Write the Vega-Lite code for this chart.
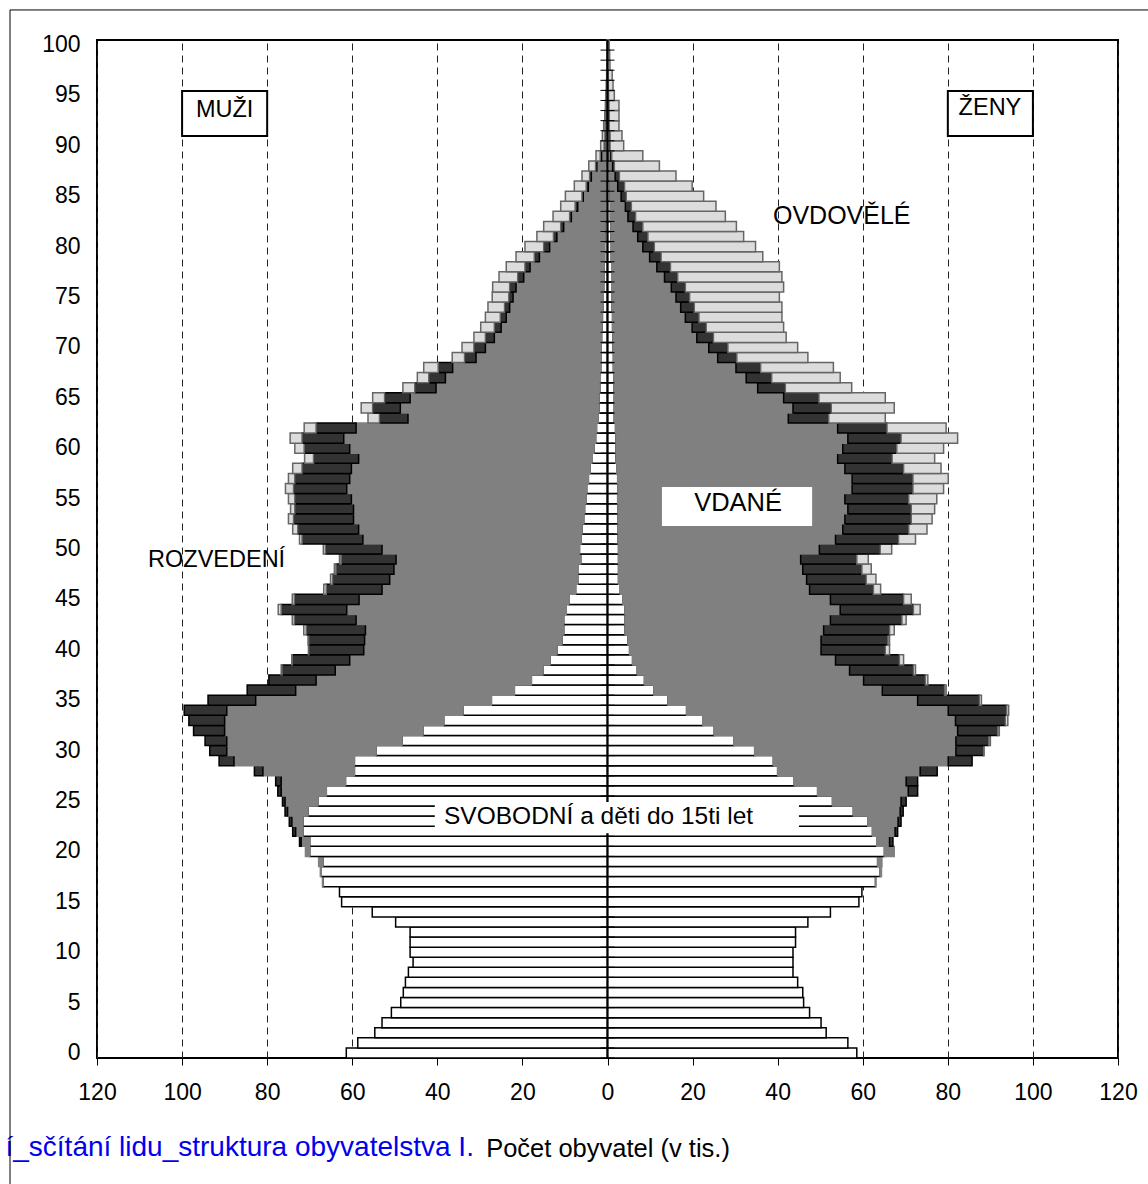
{
  "$schema": "https://vega.github.io/schema/vega-lite/v6.json",
  "width": 1021,
  "height": 1018,
  "autosize": {"type": "none"},
  "padding": {"left": 97, "top": 40, "right": 30, "bottom": 126},
  "background": "#ffffff",
  "config": {"font": "Liberation Sans", "view": {"stroke": "#000000", "strokeWidth": 2}},
  "data": {
    "values": [
      {"vek":0,"m1":-61.4,"z1":58.6},
      {"vek":1,"m1":-58.7,"z1":56.5},
      {"vek":2,"m1":-54.7,"z1":51.4},
      {"vek":3,"m1":-53.0,"z1":50.2},
      {"vek":4,"m1":-50.8,"z1":47.5},
      {"vek":5,"m1":-48.6,"z1":46.1},
      {"vek":6,"m1":-48.0,"z1":45.9},
      {"vek":7,"m1":-47.5,"z1":44.7},
      {"vek":8,"m1":-46.8,"z1":43.6},
      {"vek":9,"m1":-45.7,"z1":43.6},
      {"vek":10,"m1":-46.4,"z1":43.6},
      {"vek":11,"m1":-46.4,"z1":44.2},
      {"vek":12,"m1":-46.4,"z1":44.2},
      {"vek":13,"m1":-49.8,"z1":47.1},
      {"vek":14,"m1":-55.3,"z1":52.4},
      {"vek":15,"m1":-62.5,"z1":59.1},
      {"vek":16,"m1":-63.0,"z1":59.8},
      {"vek":17,"m1":-66.9,"m2":-0.1,"z1":63.0,"z2":0.1},
      {"vek":18,"m1":-67.3,"m2":-0.2,"z1":64.1,"z2":0.3},
      {"vek":19,"m1":-66.9,"m2":-1.0,"z1":63.5,"z2":1.0},
      {"vek":20,"m1":-70.0,"m2":-1.0,"z1":65.1,"z2":2.3},
      {"vek":21,"m1":-70.0,"m2":-2.0,"m3":-0.4,"z1":63.3,"z2":3.0,"z3":0.8},
      {"vek":22,"m1":-71.6,"m2":-1.7,"m3":-0.7,"z1":62.3,"z2":5.3,"z3":0.6},
      {"vek":23,"m1":-71.6,"m2":-2.6,"m3":-0.6,"z1":61.2,"z2":7.1,"z3":0.7},
      {"vek":24,"m1":-70.4,"m2":-4.8,"m3":-0.6,"z1":57.8,"z2":11.0,"z3":0.7},
      {"vek":25,"m1":-68.1,"m2":-7.7,"m3":-0.6,"z1":52.9,"z2":16.1,"z3":1.2},
      {"vek":26,"m1":-66.1,"m2":-10.6,"m3":-0.8,"z1":49.4,"z2":21.3,"z3":2.2},
      {"vek":27,"m1":-61.6,"m2":-15.1,"m3":-1.3,"z1":43.9,"z2":26.3,"z3":2.7},
      {"vek":28,"m1":-59.5,"m2":-21.5,"m3":-2.0,"z1":40.0,"z2":33.5,"z3":4.0},
      {"vek":29,"m1":-59.5,"m2":-28.3,"m3":-3.5,"z1":39.0,"z2":41.1,"z3":5.6},
      {"vek":30,"m1":-54.4,"m2":-35.1,"m3":-4.0,"z1":34.6,"z2":47.3,"z3":6.5,"z4":0.1},
      {"vek":31,"m1":-48.3,"m2":-41.2,"m3":-5.1,"z1":29.7,"z2":52.2,"z3":7.7,"z4":0.4},
      {"vek":32,"m1":-43.4,"m2":-46.6,"m3":-7.3,"z1":25.1,"z2":57.2,"z3":9.4,"z4":0.4},
      {"vek":33,"m1":-38.5,"m2":-51.5,"m3":-8.4,"z1":22.4,"z2":59.4,"z3":11.7,"z4":0.6},
      {"vek":34,"m1":-34.0,"m2":-55.5,"m3":-10.0,"z1":18.6,"z2":61.5,"z3":13.7,"z4":0.5},
      {"vek":35,"m1":-27.3,"m2":-55.4,"m3":-11.2,"z1":14.2,"z2":58.7,"z3":14.5,"z4":0.5},
      {"vek":36,"m1":-21.9,"m2":-51.4,"m3":-11.4,"z1":10.9,"z2":53.7,"z3":14.6,"z4":0.4},
      {"vek":37,"m1":-17.9,"m2":-50.6,"m3":-11.1,"z1":8.7,"z2":51.5,"z3":14.5,"z4":0.6},
      {"vek":38,"m1":-15.2,"m2":-48.8,"m3":-12.5,"m4":-0.2,"z1":7.0,"z2":49.9,"z3":15.0,"z4":0.5},
      {"vek":39,"m1":-13.5,"m2":-47.1,"m3":-13.5,"m4":-0.1,"z1":5.9,"z2":47.7,"z3":15.0,"z4":1.0},
      {"vek":40,"m1":-11.9,"m2":-45.4,"m3":-12.9,"m4":-0.1,"z1":5.2,"z2":45.0,"z3":15.1,"z4":1.0},
      {"vek":41,"m1":-10.7,"m2":-46.4,"m3":-13.1,"m4":-0.2,"z1":4.8,"z2":45.4,"z3":15.7,"z4":0.4},
      {"vek":42,"m1":-10.3,"m2":-46.6,"m3":-13.9,"m4":-0.6,"z1":4.1,"z2":46.7,"z3":15.5,"z4":1.1},
      {"vek":43,"m1":-10.3,"m2":-48.8,"m3":-14.5,"m4":-0.5,"z1":4.1,"z2":48.3,"z3":16.8,"z4":1.0},
      {"vek":44,"m1":-9.7,"m2":-51.6,"m3":-15.4,"m4":-0.7,"z1":4.1,"z2":50.6,"z3":17.2,"z4":1.6},
      {"vek":45,"m1":-9.1,"m2":-49.3,"m3":-15.2,"m4":-0.5,"z1":3.6,"z2":48.8,"z3":17.2,"z4":1.8},
      {"vek":46,"m1":-7.5,"m2":-45.5,"m3":-13.1,"m4":-0.6,"z1":3.0,"z2":44.5,"z3":15.0,"z4":1.7},
      {"vek":47,"m1":-7.0,"m2":-44.2,"m3":-13.4,"m4":-0.5,"z1":2.6,"z2":44.2,"z3":14.0,"z4":2.3},
      {"vek":48,"m1":-7.0,"m2":-43.2,"m3":-13.6,"m4":-0.4,"z1":2.6,"z2":43.3,"z3":13.9,"z4":2.2},
      {"vek":49,"m1":-6.3,"m2":-43.4,"m3":-12.9,"m4":-0.4,"z1":2.6,"z2":42.8,"z3":13.2,"z4":2.7},
      {"vek":50,"m1":-6.6,"m2":-46.4,"m3":-13.3,"m4":-0.5,"z1":2.6,"z2":47.2,"z3":14.3,"z4":2.7},
      {"vek":51,"m1":-6.2,"m2":-51.3,"m3":-14.3,"m4":-0.6,"z1":2.5,"z2":51.1,"z3":14.8,"z4":4.0},
      {"vek":52,"m1":-6.0,"m2":-52.5,"m3":-14.3,"m4":-1.2,"z1":2.5,"z2":52.8,"z3":15.5,"z4":4.3},
      {"vek":53,"m1":-5.6,"m2":-54.1,"m3":-14.1,"m4":-1.2,"z1":2.5,"z2":53.3,"z3":15.6,"z4":4.9},
      {"vek":54,"m1":-5.4,"m2":-54.3,"m3":-13.8,"m4":-1.0,"z1":2.5,"z2":54.0,"z3":14.9,"z4":5.5},
      {"vek":55,"m1":-5.1,"m2":-55.1,"m3":-13.3,"m4":-1.5,"z1":2.4,"z2":53.4,"z3":15.0,"z4":6.6},
      {"vek":56,"m1":-4.9,"m2":-56.4,"m3":-12.5,"m4":-1.9,"z1":2.5,"z2":55.0,"z3":14.3,"z4":7.2},
      {"vek":57,"m1":-4.5,"m2":-56.1,"m3":-12.9,"m4":-1.5,"z1":2.4,"z2":55.1,"z3":14.3,"z4":8.3},
      {"vek":58,"m1":-4.1,"m2":-56.1,"m3":-11.6,"m4":-2.2,"z1":2.2,"z2":53.6,"z3":13.8,"z4":8.8},
      {"vek":59,"m1":-3.7,"m2":-54.8,"m3":-10.6,"m4":-2.1,"z1":2.0,"z2":52.1,"z3":12.8,"z4":10.0},
      {"vek":60,"m1":-3.2,"m2":-57.4,"m3":-10.7,"m4":-2.2,"z1":2.0,"z2":53.3,"z3":12.7,"z4":11.0},
      {"vek":61,"m1":-2.8,"m2":-59.2,"m3":-9.8,"m4":-2.8,"z1":2.0,"z2":54.5,"z3":12.5,"z4":13.3},
      {"vek":62,"m1":-2.6,"m2":-56.5,"m3":-9.4,"m4":-2.8,"z1":1.9,"z2":52.2,"z3":11.6,"z4":13.9},
      {"vek":63,"m1":-2.2,"m2":-44.7,"m3":-6.7,"m4":-2.7,"z1":1.6,"z2":40.9,"z3":9.5,"z4":13.3},
      {"vek":64,"m1":-2.0,"m2":-46.7,"m3":-6.5,"m4":-2.7,"z1":1.6,"z2":42.0,"z3":9.0,"z4":14.8},
      {"vek":65,"m1":-2.0,"m2":-44.4,"m3":-6.0,"m4":-2.8,"z1":1.6,"z2":39.8,"z3":8.3,"z4":15.6},
      {"vek":66,"m1":-1.8,"m2":-38.5,"m3":-5.0,"m4":-2.8,"z1":1.5,"z2":33.8,"z3":6.5,"z4":15.6},
      {"vek":67,"m1":-1.7,"m2":-36.4,"m3":-3.9,"m4":-2.7,"z1":1.5,"z2":31.1,"z3":6.0,"z4":16.1},
      {"vek":68,"m1":-1.6,"m2":-34.8,"m3":-3.4,"m4":-3.4,"z1":1.4,"z2":28.8,"z3":5.8,"z4":17.1},
      {"vek":69,"m1":-1.5,"m2":-29.4,"m3":-2.7,"m4":-2.9,"z1":1.4,"z2":24.5,"z3":4.5,"z4":16.7},
      {"vek":70,"m1":-1.5,"m2":-27.2,"m3":-2.7,"m4":-2.8,"z1":1.3,"z2":22.5,"z3":4.5,"z4":16.4},
      {"vek":71,"m1":-1.4,"m2":-25.2,"m3":-2.1,"m4":-2.7,"z1":1.3,"z2":19.7,"z3":3.9,"z4":17.1},
      {"vek":72,"m1":-1.3,"m2":-23.7,"m3":-1.6,"m4":-3.2,"z1":1.2,"z2":18.7,"z3":3.3,"z4":18.2},
      {"vek":73,"m1":-1.2,"m2":-22.6,"m3":-1.4,"m4":-3.5,"z1":1.2,"z2":17.1,"z3":3.2,"z4":19.5},
      {"vek":74,"m1":-1.1,"m2":-21.9,"m3":-1.2,"m4":-3.9,"z1":1.1,"z2":16.1,"z3":3.2,"z4":20.6},
      {"vek":75,"m1":-1.0,"m2":-21.2,"m3":-1.0,"m4":-3.9,"z1":1.1,"z2":15.0,"z3":3.2,"z4":21.1},
      {"vek":76,"m1":-0.9,"m2":-20.6,"m3":-1.5,"m4":-4.0,"z1":1.0,"z2":14.0,"z3":3.3,"z4":23.1},
      {"vek":77,"m1":-0.8,"m2":-18.9,"m3":-1.4,"m4":-4.4,"z1":1.0,"z2":12.4,"z3":3.1,"z4":24.5},
      {"vek":78,"m1":-0.8,"m2":-17.4,"m3":-1.2,"m4":-4.4,"z1":1.0,"z2":10.6,"z3":3.2,"z4":25.6},
      {"vek":79,"m1":-0.7,"m2":-15.3,"m3":-1.2,"m4":-4.3,"z1":0.9,"z2":9.0,"z3":2.7,"z4":23.9},
      {"vek":80,"m1":-0.7,"m2":-12.9,"m3":-1.4,"m4":-4.4,"z1":0.9,"z2":7.4,"z3":2.7,"z4":23.8},
      {"vek":81,"m1":-0.6,"m2":-11.3,"m3":-0.8,"m4":-3.9,"z1":0.8,"z2":6.3,"z3":2.4,"z4":22.5},
      {"vek":82,"m1":-0.6,"m2":-9.7,"m3":-0.7,"m4":-4.0,"z1":0.8,"z2":5.2,"z3":2.3,"z4":22.0},
      {"vek":83,"m1":-0.5,"m2":-8.0,"m3":-0.4,"m4":-3.9,"z1":0.7,"z2":4.1,"z3":1.8,"z4":21.1},
      {"vek":84,"m1":-0.5,"m2":-6.5,"m3":-0.6,"m4":-3.4,"z1":0.7,"z2":3.5,"z3":1.4,"z4":19.9},
      {"vek":85,"m1":-0.4,"m2":-5.3,"m3":-0.3,"m4":-3.9,"z1":0.6,"z2":2.6,"z3":1.2,"z4":18.2},
      {"vek":86,"m1":-0.4,"m2":-4.1,"m3":-0.5,"m4":-2.8,"z1":0.6,"z2":1.8,"z3":1.6,"z4":15.9},
      {"vek":87,"m1":-0.3,"m2":-3.5,"m3":-0.4,"m4":-1.8,"z1":0.5,"z2":1.3,"z3":1.0,"z4":13.3},
      {"vek":88,"m1":-0.3,"m2":-2.2,"m3":-0.3,"m4":-1.6,"z1":0.5,"z2":0.7,"z3":0.4,"z4":10.6},
      {"vek":89,"m1":-0.3,"m2":-1.1,"m3":-0.3,"m4":-1.0,"z1":0.4,"z2":0.4,"z3":0.2,"z4":7.3},
      {"vek":90,"m1":-0.2,"m2":-0.5,"m3":-0.1,"m4":-0.8,"z1":0.3,"z2":0.2,"z3":0.1,"z4":3.2},
      {"vek":91,"m1":-0.2,"m2":-0.3,"m3":-0.1,"m4":-0.6,"z1":0.3,"z2":0.2,"z3":0.1,"z4":2.8},
      {"vek":92,"m1":-0.2,"m2":-0.2,"m3":-0.1,"m4":-0.4,"z1":0.2,"z2":0.1,"z3":0.1,"z4":2.3},
      {"vek":93,"m1":-0.1,"m2":-0.2,"m3":-0.05,"m4":-0.3,"z1":0.2,"z2":0.1,"z3":0.1,"z4":2.3},
      {"vek":94,"m1":-0.1,"m2":-0.1,"m3":-0.05,"m4":-0.25,"z1":0.2,"z2":0.1,"z3":0.05,"z4":2.35},
      {"vek":95,"m1":-0.1,"m2":-0.1,"m4":-0.2,"z1":0.1,"z2":0.1,"z3":0.05,"z4":1.35},
      {"vek":96,"m1":-0.1,"m2":-0.05,"m4":-0.15,"z1":0.1,"z2":0.05,"z3":0.05,"z4":1.1},
      {"vek":97,"m1":-0.05,"m2":-0.05,"m4":-0.1,"z1":0.1,"z2":0.05,"z4":0.95},
      {"vek":98,"m1":-0.05,"m2":-0.03,"m4":-0.07,"z1":0.05,"z2":0.03,"z4":0.5},
      {"vek":99,"m1":-0.03,"m2":-0.02,"m4":-0.05,"z1":0.05,"z2":0.02,"z4":0.43},
      {"vek":100,"m1":-0.03,"m2":-0.02,"m4":-0.05,"z1":0.05,"z2":0.02,"z4":0.33}
    ]
  },
  "layer": [
    {
      "layer": [
        {
          "transform": [
            {"fold": ["m1", "m2", "m3", "m4", "z1", "z2", "z3", "z4"], "as": ["skupina", "pocet"]},
            {"filter": "isValid(datum.pocet) && datum.pocet !== 0"}
          ],
          "mark": {"type": "bar", "strokeWidth": 1.5},
          "encoding": {
            "y": {
              "field": "vek", "type": "ordinal", "sort": "descending",
              "scale": {"paddingInner": 0, "paddingOuter": 0},
              "axis": {
                "values": [0, 5, 10, 15, 20, 25, 30, 35, 40, 45, 50, 55, 60, 65, 70, 75, 80, 85, 90, 95, 100],
                "title": null, "labelAngle": 0, "labelFontSize": 23, "labelPadding": 17,
                "labelColor": "#000000", "ticks": false, "domain": false
              }
            },
            "x": {
              "field": "pocet", "type": "quantitative", "stack": "zero",
              "scale": {"domain": [-120, 120], "nice": false, "zero": false},
              "axis": {
                "values": [-120, -100, -80, -60, -40, -20, 0, 20, 40, 60, 80, 100, 120],
                "labelExpr": "abs(datum.value)",
                "grid": true, "gridDash": [7, 5], "gridColor": "#222222", "gridWidth": 1, "gridOpacity": 1,
                "tickSize": 7, "tickColor": "#000000", "tickWidth": 1, "domain": false,
                "labelFontSize": 23, "labelPadding": 16, "labelColor": "#000000", "labelFlush": false, "labelOverlap": false,
                "title": "Počet obyvatel (v tis.)", "titleFontSize": 25.5, "titleFontWeight": "normal",
                "titleColor": "#000000", "titlePadding": 32
              }
            },
            "color": {
              "field": "skupina", "type": "nominal", "legend": null,
              "scale": {
                "domain": ["m1", "m2", "m3", "m4", "z1", "z2", "z3", "z4"],
                "range": ["#ffffff", "#808080", "#333333", "#dcdcdc", "#ffffff", "#808080", "#333333", "#dcdcdc"]
              }
            },
            "stroke": {
              "field": "skupina", "type": "nominal", "legend": null,
              "scale": {
                "domain": ["m1", "m2", "m3", "m4", "z1", "z2", "z3", "z4"],
                "range": ["#000000", "#808080", "#000000", "#666666", "#000000", "#808080", "#000000", "#666666"]
              }
            },
            "order": {"field": "skupina", "type": "ordinal", "sort": "ascending"}
          }
        },
        {
          "mark": {"type": "rule", "color": "#000000", "strokeWidth": 1, "yOffset": 5.04},
          "encoding": {
            "y": {"field": "vek", "type": "ordinal", "sort": "descending", "scale": {"paddingInner": 0, "paddingOuter": 0}},
            "x": {"datum": -1.65, "type": "quantitative", "scale": {"domain": [-120, 120], "nice": false, "zero": false}},
            "x2": {"datum": 1.65}
          }
        }
      ]
    },
    {
      "layer": [
        {
          "data": {"values": [{}]},
          "mark": {"type": "rule", "color": "#000000", "strokeWidth": 2},
          "encoding": {
            "x": {"datum": 0, "type": "quantitative", "scale": {"domain": [-120, 120], "nice": false, "zero": false}},
            "y": {"datum": -0.5, "type": "quantitative", "scale": {"domain": [-0.5, 100.5], "nice": false, "zero": false}, "axis": null},
            "y2": {"datum": 100.5}
          }
        },
        {
          "data": {"values": [{}]},
          "mark": {"type": "rect", "fill": "#ffffff", "stroke": "#000000", "strokeWidth": 2},
          "encoding": {
            "x": {"datum": -100.0, "type": "quantitative", "scale": {"domain": [-120, 120], "nice": false, "zero": false}},
            "x2": {"datum": -80.0},
            "y": {"datum": 95.44, "type": "quantitative", "scale": {"domain": [-0.5, 100.5], "nice": false, "zero": false}, "axis": null},
            "y2": {"datum": 90.98}
          }
        },
        {
          "data": {"values": [{}]},
          "mark": {"type": "text", "text": "MUŽI", "fontSize": 23.5, "color": "#000000", "align": "center", "baseline": "middle"},
          "encoding": {
            "x": {"datum": -90.0, "type": "quantitative", "scale": {"domain": [-120, 120], "nice": false, "zero": false}},
            "y": {"datum": 93.6, "type": "quantitative", "scale": {"domain": [-0.5, 100.5], "nice": false, "zero": false}, "axis": null}
          }
        },
        {
          "data": {"values": [{}]},
          "mark": {"type": "rect", "fill": "#ffffff", "stroke": "#000000", "strokeWidth": 2},
          "encoding": {
            "x": {"datum": 80.0, "type": "quantitative", "scale": {"domain": [-120, 120], "nice": false, "zero": false}},
            "x2": {"datum": 100.0},
            "y": {"datum": 95.44, "type": "quantitative", "scale": {"domain": [-0.5, 100.5], "nice": false, "zero": false}, "axis": null},
            "y2": {"datum": 90.98}
          }
        },
        {
          "data": {"values": [{}]},
          "mark": {"type": "text", "text": "ŽENY", "fontSize": 23.5, "color": "#000000", "align": "center", "baseline": "middle"},
          "encoding": {
            "x": {"datum": 89.9, "type": "quantitative", "scale": {"domain": [-120, 120], "nice": false, "zero": false}},
            "y": {"datum": 93.8, "type": "quantitative", "scale": {"domain": [-0.5, 100.5], "nice": false, "zero": false}, "axis": null}
          }
        },
        {
          "data": {"values": [{}]},
          "mark": {"type": "rect", "fill": "#ffffff", "strokeWidth": 0},
          "encoding": {
            "x": {"datum": 12.8, "type": "quantitative", "scale": {"domain": [-120, 120], "nice": false, "zero": false}},
            "x2": {"datum": 48.1},
            "y": {"datum": 56.15, "type": "quantitative", "scale": {"domain": [-0.5, 100.5], "nice": false, "zero": false}, "axis": null},
            "y2": {"datum": 52.28}
          }
        },
        {
          "data": {"values": [{}]},
          "mark": {"type": "text", "text": "VDANÉ", "fontSize": 25.5, "color": "#000000", "align": "center", "baseline": "middle"},
          "encoding": {
            "x": {"datum": 30.7, "type": "quantitative", "scale": {"domain": [-120, 120], "nice": false, "zero": false}},
            "y": {"datum": 54.56, "type": "quantitative", "scale": {"domain": [-0.5, 100.5], "nice": false, "zero": false}, "axis": null}
          }
        },
        {
          "data": {"values": [{}]},
          "mark": {"type": "rect", "fill": "#ffffff", "strokeWidth": 0},
          "encoding": {
            "x": {"datum": -40.6, "type": "quantitative", "scale": {"domain": [-120, 120], "nice": false, "zero": false}},
            "x2": {"datum": 45.0},
            "y": {"datum": 24.9, "type": "quantitative", "scale": {"domain": [-0.5, 100.5], "nice": false, "zero": false}, "axis": null},
            "y2": {"datum": 21.8}
          }
        },
        {
          "data": {"values": [{}]},
          "mark": {"type": "text", "text": "SVOBODNÍ a děti do 15ti let", "fontSize": 24.5, "color": "#000000", "align": "center", "baseline": "middle"},
          "encoding": {
            "x": {"datum": -2.1, "type": "quantitative", "scale": {"domain": [-120, 120], "nice": false, "zero": false}},
            "y": {"datum": 23.4, "type": "quantitative", "scale": {"domain": [-0.5, 100.5], "nice": false, "zero": false}, "axis": null}
          }
        },
        {
          "data": {"values": [{}]},
          "mark": {"type": "text", "text": "OVDOVĚLÉ", "fontSize": 25, "color": "#000000", "align": "left", "baseline": "middle"},
          "encoding": {
            "x": {"datum": 38.9, "type": "quantitative", "scale": {"domain": [-120, 120], "nice": false, "zero": false}},
            "y": {"datum": 83.0, "type": "quantitative", "scale": {"domain": [-0.5, 100.5], "nice": false, "zero": false}, "axis": null}
          }
        },
        {
          "data": {"values": [{}]},
          "mark": {"type": "text", "text": "ROZVEDENÍ", "fontSize": 23.5, "color": "#000000", "align": "left", "baseline": "middle"},
          "encoding": {
            "x": {"datum": -108.0, "type": "quantitative", "scale": {"domain": [-120, 120], "nice": false, "zero": false}},
            "y": {"datum": 48.9, "type": "quantitative", "scale": {"domain": [-0.5, 100.5], "nice": false, "zero": false}, "axis": null}
          }
        },
        {
          "data": {"values": [{}]},
          "mark": {"type": "text", "text": "í_sčítání lidu_struktura obyvatelstva I.", "fontSize": 28, "color": "#0000ee", "align": "right", "baseline": "middle"},
          "encoding": {
            "x": {"datum": -31.4, "type": "quantitative", "scale": {"domain": [-120, 120], "nice": false, "zero": false}},
            "y": {"datum": -9.4, "type": "quantitative", "scale": {"domain": [-0.5, 100.5], "nice": false, "zero": false}, "axis": null}
          }
        },
        {
          "data": {"values": [{}]},
          "mark": {"type": "rule", "color": "#000000", "strokeWidth": 1},
          "encoding": {
            "x": {"datum": -140.45, "type": "quantitative", "scale": {"domain": [-120, 120], "nice": false, "zero": false}},
            "x2": {"datum": 135},
            "y": {"datum": 103.48, "type": "quantitative", "scale": {"domain": [-0.5, 100.5], "nice": false, "zero": false}, "axis": null}
          }
        },
        {
          "data": {"values": [{}]},
          "mark": {"type": "rule", "color": "#000000", "strokeWidth": 1},
          "encoding": {
            "x": {"datum": -140.45, "type": "quantitative", "scale": {"domain": [-120, 120], "nice": false, "zero": false}},
            "y": {"datum": 103.48, "type": "quantitative", "scale": {"domain": [-0.5, 100.5], "nice": false, "zero": false}, "axis": null},
            "y2": {"datum": -16}
          }
        }
      ]
    }
  ],
  "resolve": {"scale": {"y": "independent"}}
}
